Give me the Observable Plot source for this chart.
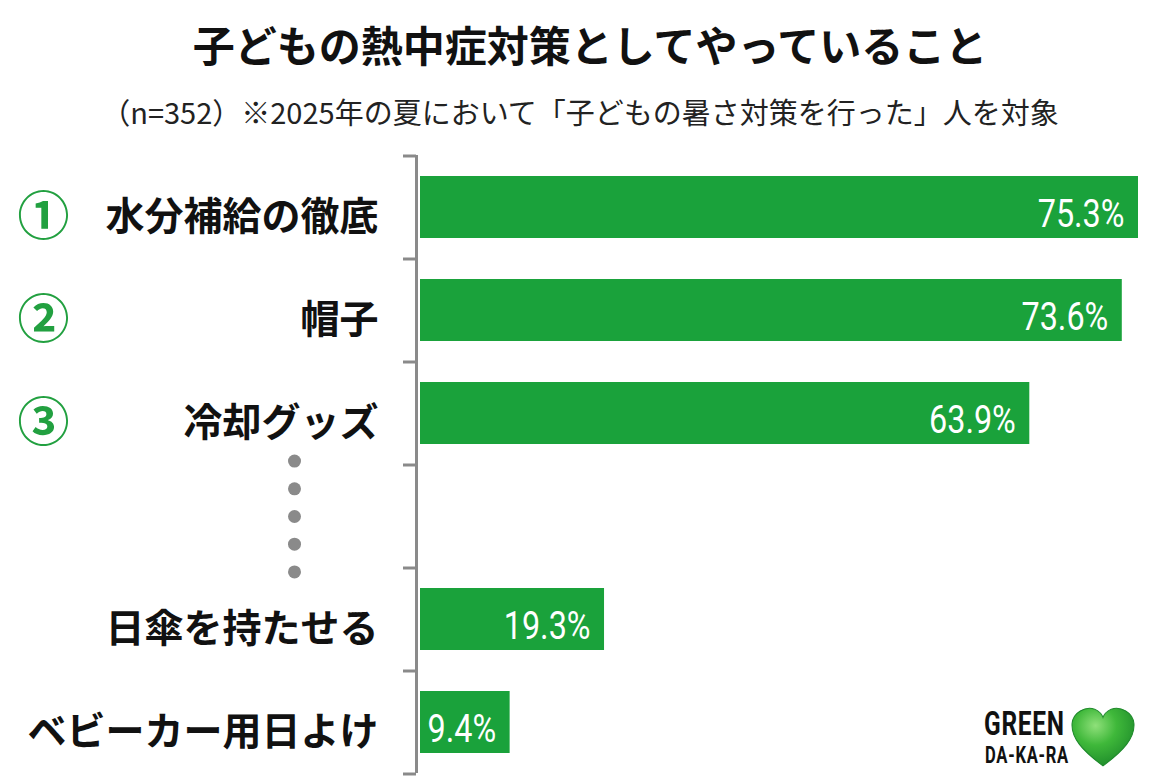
<!DOCTYPE html>
<html lang="ja">
<head>
<meta charset="utf-8">
<script src="https://cdn.jsdelivr.net/npm/d3@7"></script>
<script src="https://cdn.jsdelivr.net/npm/@observablehq/plot@0.6"></script>
<style>
  html, body { margin: 0; padding: 0; background: #fff; overflow: hidden; }
  body { width: 1155px; height: 779px; position: relative; font-family: "Noto Sans CJK JP", sans-serif; }
  #head { position: relative; height: 140px; }
  #title { position: absolute; top: 20px; left: 0; width: 1180px; text-align: center; font-size: 42px; line-height: 48px; font-weight: bold; color: #111; }
  #subtitle { position: absolute; top: 94px; left: 0; width: 1160px; text-align: center; font-size: 29px; line-height: 34px; color: #222; }
  #logo { position: absolute; left: 984px; top: 706px; width: 160px; height: 66px; }
  #logo .t1 { position: absolute; left: 0; top: 0; font-family: "Roboto", sans-serif; font-weight: bold; font-size: 34px; line-height: 34px; color: #111; letter-spacing: 1px; transform: scaleX(0.72); transform-origin: left top; white-space: nowrap; }
  #logo .t2 { position: absolute; left: 1px; top: 38px; font-family: "Roboto", sans-serif; font-weight: bold; font-size: 23px; line-height: 24px; color: #111; letter-spacing: 1px; transform: scaleX(0.72); transform-origin: left top; white-space: nowrap; }
  #logo svg { position: absolute; left: 86px; top: 0px; }
</style>
</head>
<body>
<div id="head">
  <div id="title">子どもの熱中症対策としてやっていること</div>
  <div id="subtitle">（n=352）※2025年の夏において「子どもの暑さ対策を行った」人を対象</div>
</div>
<div id="chart"></div>
<div id="logo"><div class="t1">GREEN</div><div class="t2">DA-KA-RA</div>
  <svg width="66" height="62" viewBox="0 0 64 60" aria-hidden="true">
    <defs>
      <radialGradient id="hg" cx="0.38" cy="0.3" r="0.75">
        <stop offset="0" stop-color="#8fe07a"/>
        <stop offset="0.45" stop-color="#3fb83a"/>
        <stop offset="1" stop-color="#1d8a2a"/>
      </radialGradient>
    </defs>
    <path d="M32 58 C 12 43, 1 31, 2 17 C 3 6, 15 0, 24 3 C 28 5, 31 8, 32 11 C 33 8, 36 5, 40 3 C 49 0, 61 6, 62 17 C 63 31, 52 43, 32 58 Z" fill="url(#hg)" stroke="#1f8a2c" stroke-width="1"/>
  </svg>
</div>
<script>
const categories = ["水分補給の徹底", "帽子", "冷却グッズ", "（中略）", "日傘を持たせる", "ベビーカー用日よけ"];
const values = [75.3, 73.6, 63.9, null, 19.3, 9.4];
const ranks = ["①", "②", "③", "", "", ""];

const rows = categories.map((c, i) => ({category: c, value: values[i], rank: ranks[i]}));
const bars = rows.filter(d => d.value != null);
const ranked = rows.filter(d => d.rank);
const gapRow = rows.filter(d => d.value == null).map(d => d.category);

const W = 1155, H = 639, ML = 420, MR = 17, MT = 15, MB = 6;
const xMax = d3.max(values);
const k = (W - ML - MR) / xMax;          // px per unit
const step = (H - MT - MB) / categories.length;
const green = "#1aa23b";
const gray = "#8a8a8a";

const dotMarks = [-2, -1, 0, 1, 2].map(i =>
  Plot.dot(gapRow, {y: d => d, frameAnchor: "left", dx: -126, dy: i * 27.7, r: 6.5, fill: gray})
);

const chart = Plot.plot({
  width: W, height: H,
  marginLeft: ML, marginRight: MR, marginTop: MT, marginBottom: MB,
  style: {fontFamily: "'Noto Sans CJK JP', sans-serif", background: "transparent"},
  x: {domain: [0, xMax], axis: null},
  y: {domain: categories, axis: null, paddingInner: 0.4, paddingOuter: 0.2},
  marks: [
    Plot.barX(bars, {x: "value", y: "category", fill: green}),
    Plot.ruleX([0], {stroke: gray, strokeWidth: 3, dx: -4}),
    Plot.ruleY(categories, {y: d => d, x1: -13 / k, x2: 0, dx: -4, dy: -step / 2, stroke: gray, strokeWidth: 3}),
    Plot.ruleY([categories[categories.length - 1]], {y: d => d, x1: -13 / k, x2: 0, dx: -4, dy: step / 2, stroke: gray, strokeWidth: 3}),
    Plot.text(bars, {y: "category", text: "category", frameAnchor: "left", dx: -42, dy: 10, textAnchor: "end",
      fontSize: 39, fontWeight: "bold", fill: "#111"}),
    Plot.text(ranked, {y: "category", text: "rank", frameAnchor: "left", dx: -403, dy: 11, textAnchor: "start",
      fontSize: 52, fontWeight: "bold", fill: "#22a040"}),
    ...dotMarks,
    Plot.text(bars, {x: "value", y: "category", text: d => d.value.toFixed(1) + "%", textAnchor: "end",
      dx: -14, dy: 7, fill: "white", fontSize: 39,
      fontFamily: "'Roboto', sans-serif"})
  ]
});
document.getElementById("chart").appendChild(chart);

// condense the value labels (narrow sans look)
const textGroups = chart.querySelectorAll('g[aria-label="text"]');
const valueGroup = textGroups[textGroups.length - 1];
valueGroup.querySelectorAll("text").forEach(t => {
  const len = t.getComputedTextLength();
  t.setAttribute("textLength", (len * 0.83).toFixed(1));
  t.setAttribute("lengthAdjust", "spacingAndGlyphs");
});
</script>
</body>
</html>
